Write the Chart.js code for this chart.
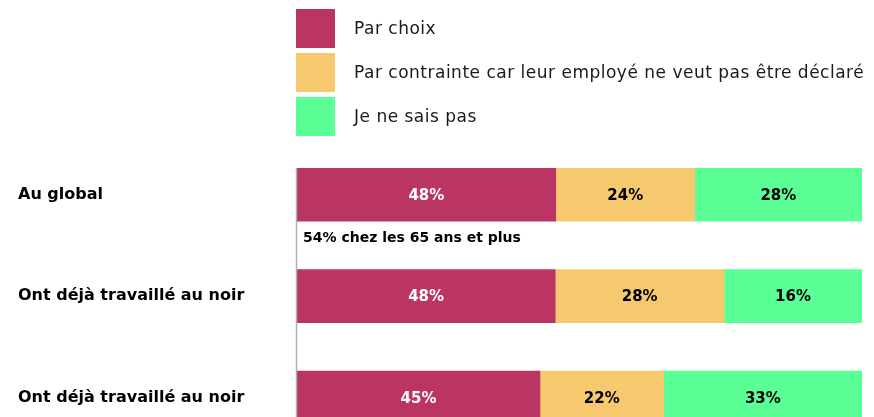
<!DOCTYPE html>
<html>
<head>
<meta charset="utf-8">
<script src="https://cdn.jsdelivr.net/npm/chart.js@4/dist/chart.umd.min.js"></script>
<style>
  html, body { margin: 0; padding: 0; background: #fff; overflow: hidden; }
  #wrap { position: relative; width: 874px; height: 461px; }
</style>
</head>
<body>
<div id="wrap"><canvas id="chart"></canvas></div>
<script>
// ===== DATA =====
const categories = ['Au global', 'Ont déjà travaillé au noir', 'Ont déjà travaillé au noir'];
const seriesNames = ['Par choix', 'Par contrainte car leur employé ne veut pas être déclaré', 'Je ne sais pas'];
// bar lengths as drawn (share of the full bar)
const parChoix = [45.8, 45.7, 43.0];
const parContrainte = [24.6, 29.9, 21.9];
const neSaitPas = [29.6, 24.4, 35.1];
// printed labels
const labelsChoix = ['48%', '48%', '45%'];
const labelsContrainte = ['24%', '28%', '22%'];
const labelsNeSaitPas = ['28%', '16%', '33%'];
const note = '54% chez les 65 ans et plus';

const colors = ['#BA3563', '#F7C96E', '#5AFF96'];
const labelColors = ['#ffffff', '#000000', '#000000'];
const FONT = '"DejaVu Sans", sans-serif';

// ===== PLUGINS =====
const barLabels = {
  id: 'barLabels',
  afterDatasetsDraw(chart) {
    const ctx = chart.ctx;
    ctx.save();
    ctx.font = 'bold 15px ' + FONT;
    ctx.textAlign = 'center';
    ctx.textBaseline = 'middle';
    chart.data.datasets.forEach((ds, i) => {
      chart.getDatasetMeta(i).data.forEach((el, j) => {
        ctx.fillStyle = labelColors[i];
        ctx.fillText(ds.printed[j], (el.x + el.base) / 2, el.y + 1);
      });
    });
    ctx.restore();
  }
};

const extras = {
  id: 'extras',
  afterDraw(chart) {
    const ctx = chart.ctx;
    const area = chart.chartArea;
    const first = chart.getDatasetMeta(0).data[0];
    ctx.save();
    // axis line from the first bar down
    ctx.strokeStyle = '#b0b0b0';
    ctx.lineWidth = 1.5;
    ctx.beginPath();
    ctx.moveTo(area.left - 0.5, first.y - first.height / 2);
    ctx.lineTo(area.left - 0.5, chart.height);
    ctx.stroke();

    // note under the first bar
    ctx.fillStyle = '#000';
    ctx.font = 'bold 14px ' + FONT;
    ctx.textAlign = 'left';
    ctx.textBaseline = 'middle';
    ctx.fillText(note, area.left + 6, first.y + first.height / 2 + 17);

    // legend
    ctx.font = '17px ' + FONT;
    ctx.letterSpacing = '0.5px';
    chart.data.datasets.forEach((ds, i) => {
      const top = 9 + i * 44;
      ctx.fillStyle = ds.backgroundColor;
      ctx.fillRect(area.left - 1, top, 39, 39);
      ctx.fillStyle = '#1a1a1a';
      ctx.fillText(ds.label, area.left + 57, top + 21);
    });
    ctx.restore();
  }
};

// ===== CHART =====
const datasets = [parChoix, parContrainte, neSaitPas].map((vals, i) => ({
  label: seriesNames[i],
  data: vals,
  printed: [labelsChoix, labelsContrainte, labelsNeSaitPas][i],
  backgroundColor: colors[i],
  borderWidth: 0,
  barThickness: 53,
}));

new Chart(document.getElementById('chart'), {
  type: 'bar',
  data: { labels: categories, datasets },
  options: {
    indexAxis: 'y',
    responsive: true,
    maintainAspectRatio: false,
    animation: false,
    layout: { padding: { left: 18, right: 12, top: 144, bottom: 2 } },
    plugins: { legend: { display: false }, tooltip: { enabled: false } },
    scales: {
      x: { stacked: true, min: 0, max: 100, display: false },
      y: {
        stacked: true,
        grid: { display: false },
        border: { display: false },
        afterFit: (s) => { s.width = 279; },
        ticks: {
          crossAlign: 'far',
          color: '#000',
          font: { family: FONT, size: 16, weight: 'bold' },
        },
      },
    },
  },
  plugins: [barLabels, extras],
});
</script>
</body>
</html>
